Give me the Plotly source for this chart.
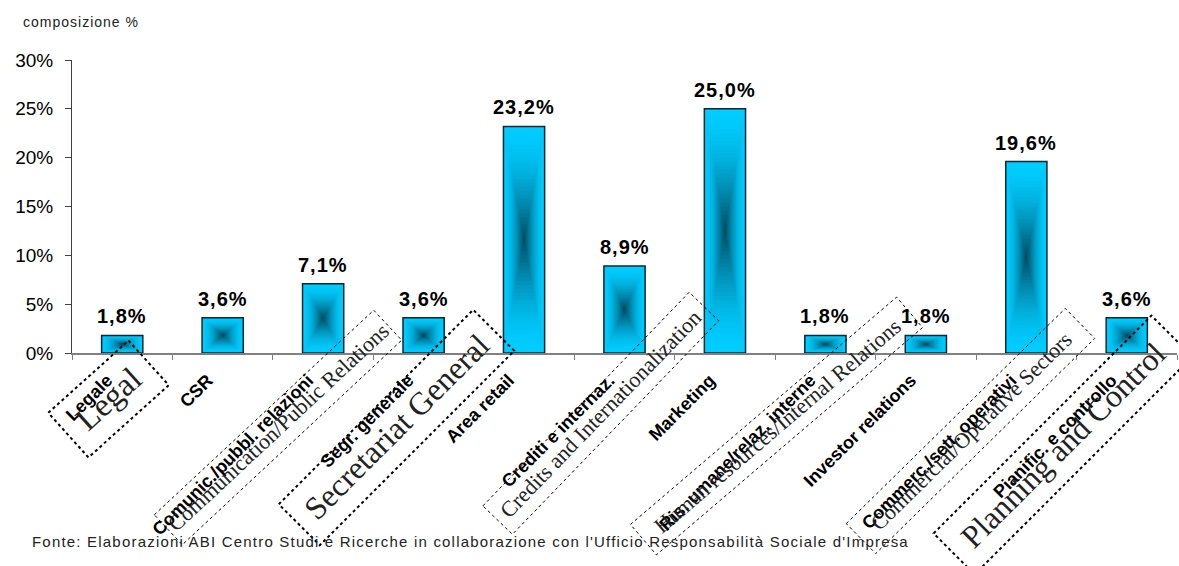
import math
import plotly.graph_objects as go

# ---- data -------------------------------------------------------------
categories = [
    "Legale", "CSR", "Comunic./pubbl. relazioni", "Segr. generale", "Area retail",
    "Crediti e internaz.", "Marketing", "Ris. umane/relaz. interne",
    "Investor relations", "Commerc./sett. operativi", "Pianific. e controllo",
]
shares = [1.8, 3.6, 7.1, 3.6, 23.2, 8.9, 25.0, 1.8, 1.8, 19.6, 3.6]
y_ticks = [0, 5, 10, 15, 20, 25, 30]
y_tick_labels = ["0%", "5%", "10%", "15%", "20%", "25%", "30%"]
translations = [
    "Legal", "Communication/Public Relations", "Secretariat General",
    "Credits and Internationalization", "Human resources/Internal Relations",
    "Commercial/Operative Sectors", "Planning and Control",
]

# ---- page geometry ------------------------------------------------------
W, H = 1179, 566
ML, MR, MT, MB = 72, 2, 60, 213
PW, PH = W - ML - MR, H - MT - MB


def to_paper(px, py):
    return (px - ML) / PW, (H - MB - py) / PH


def spaced(text, px):
    return '<span style="letter-spacing:%spx">%s</span>' % (px, text)


# ---- bars: concentric layers give a cyan-to-teal path gradient ----------
EDGE = (0, 204, 255)
CORE = (2, 70, 92)
BAR_W = 0.41
N_LAYERS = 30

fig = go.Figure()
for k in range(N_LAYERS):
    s = 1 - k / N_LAYERS
    d = (k / N_LAYERS) ** 1.7
    rgb = tuple(round(e + (c - e) * d) for e, c in zip(EDGE, CORE))
    fig.add_bar(
        x=categories,
        y=[v * s for v in shares],
        base=[v * (1 - s) / 2 for v in shares],
        width=BAR_W * s,
        marker=dict(color="rgb(%d,%d,%d)" % rgb, line_width=0),
        hoverinfo="skip",
        showlegend=False,
    )

# outline of each bar
fig.add_bar(
    x=categories,
    y=shares,
    width=BAR_W,
    marker=dict(color="rgba(0,0,0,0)", line=dict(color="#0a2630", width=1.5)),
    showlegend=False,
)

annotations = []

# value labels above the bars
for cat, v in zip(categories, shares):
    annotations.append(dict(
        text=spaced(("%.1f%%" % v).replace(".", ","), 1),
        x=cat, y=v, xref="x", yref="y", xanchor="center", yanchor="bottom",
        yshift=6, showarrow=False,
        font=dict(family="Liberation Sans", size=20, color="black", weight="bold"),
    ))

# ---- translated labels in dotted boxes ----------------------------------
# (centre x, centre y, angle, box length, box thickness, font size, line width)
boxes = [
    (108.5, 399, 42, 108, 60, 33, 2),
    (278, 427.5, 43, 300, 41, 22, 1),
    (396.5, 427.5, 45, 275, 58, 32, 2),
    (600.8, 413.3, 46, 297, 41, 22, 1),
    (776.5, 426, 40.5, 350, 40, 22, 1),
    (970.5, 431, 44.5, 307, 42, 22, 1),
    (1063, 445, 45, 308, 58, 32, 2),
]

shapes = []
for label, (cx, cy, ang, blen, bth, fsize, lw) in zip(translations, boxes):
    a = math.radians(ang)
    ux, uy = math.cos(a), -math.sin(a)
    nx, ny = math.sin(a), math.cos(a)
    corners = []
    for su, sn in ((-1, -1), (1, -1), (1, 1), (-1, 1)):
        px = cx + su * blen / 2 * ux + sn * bth / 2 * nx
        py = cy + su * blen / 2 * uy + sn * bth / 2 * ny
        corners.append(to_paper(px, py))
    path = "M " + " L ".join("%.5f,%.5f" % c for c in corners) + " Z"
    shapes.append(dict(type="path", path=path, xref="paper", yref="paper",
                       line=dict(color="black", width=lw, dash="dot")))
    tx, ty = to_paper(cx, cy)
    annotations.append(dict(
        text=label, x=tx, y=ty, xref="paper", yref="paper",
        xanchor="center", yanchor="middle", showarrow=False, textangle=-ang,
        font=dict(family="Liberation Serif", size=fsize, color="#222222"),
    ))

# axis caption and source line
cx_, cy_ = to_paper(21, 22)
annotations.append(dict(
    text=spaced("composizione %", 1), x=cx_, y=cy_, xref="paper", yref="paper",
    xanchor="left", yanchor="middle", showarrow=False,
    font=dict(family="Liberation Sans", size=14, color="#222222"),
))
fx, fy = to_paper(30, 541)
annotations.append(dict(
    text=spaced("Fonte: Elaborazioni ABI Centro Studi e Ricerche in collaborazione con "
                "l'Ufficio Responsabilità Sociale d'Impresa", 1.2),
    x=fx, y=fy, xref="paper", yref="paper", xanchor="left", yanchor="middle",
    showarrow=False, font=dict(family="Liberation Sans", size=15, color="#222222"),
))

fig.update_layout(
    template="none",
    width=W, height=H,
    margin=dict(l=ML, r=MR, t=MT, b=MB, pad=0),
    paper_bgcolor="white", plot_bgcolor="white",
    barmode="overlay",
    showlegend=False,
    shapes=shapes,
    annotations=annotations,
    xaxis=dict(
        type="category", range=[-0.5, len(categories) - 0.5],
        showline=True, linecolor="#808080", linewidth=1.5,
        ticks="outside", ticklen=5, tickcolor="#808080", tickwidth=1,
        tickson="boundaries", tickangle=-45, showgrid=False, zeroline=False,
        automargin=False, ticklabelstandoff=8, ticklabelshift=-15,
        tickfont=dict(family="Liberation Sans", size=18, color="black", weight="bold"),
    ),
    yaxis=dict(
        range=[0, 30], tickvals=y_ticks, ticktext=y_tick_labels,
        showline=True, linecolor="#404040", linewidth=1,
        ticks="outside", ticklen=6, tickcolor="#404040",
        showgrid=False, zeroline=False, automargin=False,
        ticklabelstandoff=8,
        tickfont=dict(family="Liberation Sans", size=19, color="black"),
    ),
)

fig.write_html("out.html")
